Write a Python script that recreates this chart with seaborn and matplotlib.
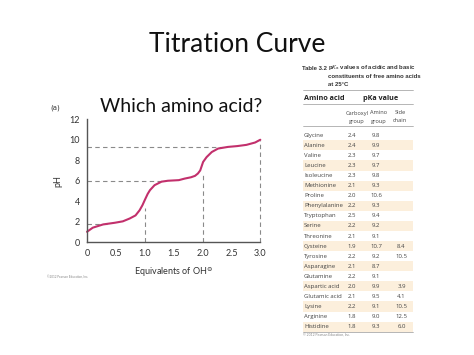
import matplotlib
matplotlib.use("Agg")
import matplotlib.pyplot as plt
import seaborn as sns
import pandas as pd

# ---- data ----
equivalents = [0, 0.1, 0.28, 0.48, 0.62, 0.74, 0.84, 0.91, 0.96, 1.0, 1.05, 1.09,
               1.17, 1.29, 1.40, 1.59, 1.69, 1.80, 1.87, 1.92, 1.96, 2.01, 2.07,
               2.16, 2.27, 2.44, 2.6, 2.76, 2.91, 3.0]
ph_values = [1.0, 1.4, 1.72, 1.88, 2.02, 2.3, 2.6, 3.1, 3.6, 4.1, 4.7, 5.07,
             5.56, 5.9, 5.99, 6.05, 6.2, 6.33, 6.47, 6.7, 7.0, 7.83, 8.3,
             8.8, 9.14, 9.3, 9.38, 9.5, 9.73, 10.0]
pka_levels = [1.8, 6.0, 9.3]
pka_reach = [0.35, 1.35, 2.35]
eq_points = [1.0, 2.0, 3.0]
eq_reach = [3.3, 6.8, 10.0]
x_ticks = [0, 0.5, 1.0, 1.5, 2.0, 2.5, 3.0]
x_tick_labels = ["0", "0.5", "1.0", "1.5", "2.0", "2.5", "3.0"]
y_ticks = [0, 2, 4, 6, 8, 10, 12]

amino_acids = ["Glycine", "Alanine", "Valine", "Leucine", "Isoleucine", "Methionine",
               "Proline", "Phenylalanine", "Tryptophan", "Serine", "Threonine",
               "Cysteine", "Tyrosine", "Asparagine", "Glutamine", "Aspartic acid",
               "Glutamic acid", "Lysine", "Arginine", "Histidine"]
carboxyl = ["2.4", "2.4", "2.3", "2.3", "2.3", "2.1", "2.0", "2.2", "2.5", "2.2",
            "2.1", "1.9", "2.2", "2.1", "2.2", "2.0", "2.1", "2.2", "1.8", "1.8"]
amino = ["9.8", "9.9", "9.7", "9.7", "9.8", "9.3", "10.6", "9.3", "9.4", "9.2",
         "9.1", "10.7", "9.2", "8.7", "9.1", "9.9", "9.5", "9.1", "9.0", "9.3"]
side_chain = ["", "", "", "", "", "", "", "", "", "", "", "8.4", "10.5", "", "",
              "3.9", "4.1", "10.5", "12.5", "6.0"]

df = pd.DataFrame({"eq": equivalents, "pH": ph_values})

sns.set_style("white")
plt.rcParams["font.family"] = ["Lato", "DejaVu Sans"]

fig = plt.figure(figsize=(4.74, 3.55), dpi=100)
fig.patch.set_facecolor("white")

# ---- chart ----
W, H = 474, 355
ax = fig.add_axes([87 / W, 1 - 242 / H, (260.3 - 87) / W, (242 - 119.3) / H])
axis_col = "#555555"
dash_col = "#8a8a8a"
for lvl, reach in zip(pka_levels, pka_reach):
    ax.plot([0, reach], [lvl, lvl], ls=(0, (4, 3)), color=dash_col, lw=0.8, clip_on=False)
for xv, reach in zip(eq_points, eq_reach):
    ax.plot([xv, xv], [0, reach], ls=(0, (4, 3)), color=dash_col, lw=0.8, clip_on=False)
sns.lineplot(data=df, x="eq", y="pH", ax=ax, color="#c2306c", lw=1.5, sort=False)
for l in ax.lines:
    l.set_clip_on(False)
    l.set_solid_joinstyle("round")
ax.set_xlim(0, 3.0)
ax.set_ylim(0, 12)
ax.set_xticks(x_ticks)
ax.set_xticklabels(x_tick_labels)
ax.set_yticks(y_ticks)
sns.despine(ax=ax)
for s in ["left", "bottom"]:
    ax.spines[s].set_color(axis_col)
    ax.spines[s].set_linewidth(1.0)
ax.tick_params(axis="both", direction="out", length=3, width=0.9, color=axis_col,
               labelsize=6.5, labelcolor="#333333", pad=2)
ax.set_xlabel(r"Equivalents of OH$^{\ominus}$", fontsize=6.5, color="#333333", labelpad=5)
ax.set_ylabel("pH", fontsize=6.5, color="#333333", labelpad=5)

# ---- slide text ----
fig.text(0.5, 1 - 45 / H, "Titration Curve", ha="center", va="center",
         fontsize=19, color="#111111")
fig.text(100 / W, 1 - 106 / H, "Which amino acid?", ha="left", va="center",
         fontsize=14, color="#111111")
fig.text(50 / W, 1 - 108 / H, "(a)", ha="left", va="center", fontsize=5,
         color="#333333", family=["DejaVu Sans"])
fig.text(47 / W, 1 - 277 / H, "©2012 Pearson Education, Inc.", ha="left", va="center",
         fontsize=2.2, color="#888888")

# ---- table (pixel-coordinate overlay) ----
tb = fig.add_axes([0, 0, 1, 1])
tb.set_xlim(0, W)
tb.set_ylim(H, 0)
tb.axis("off")
tfam = ["Liberation Sans Narrow", "Liberation Sans", "DejaVu Sans"]
tb.text(302, 68, "Table 3.2", fontsize=4.3, fontweight="bold", family=tfam,
        va="center", ha="left", color="#333333")
tb.text(328, 68, r"p$K_\mathrm{a}$ values of acidic and basic", fontsize=4.3,
        fontweight="bold", family=tfam, va="center", ha="left", color="#333333")
tb.text(328, 76, "constituents of free amino acids", fontsize=4.3, fontweight="bold",
        family=tfam, va="center", ha="left", color="#333333")
tb.text(328, 84, "at 25°C", fontsize=4.3, fontweight="bold", family=tfam,
        va="center", ha="left", color="#333333")
rule_col = "#999999"
for yy in [90, 104, 126]:
    tb.plot([303, 413], [yy, yy], color=rule_col, lw=0.5)
tb.text(304, 98, "Amino acid", fontsize=5.2, fontweight="bold", va="center", ha="left",
        color="#222222", family=["Open Sans", "DejaVu Sans"])
tb.text(363, 98, "pKa value", fontsize=5.2, fontweight="bold", va="center", ha="left",
        color="#222222", family=["Open Sans", "DejaVu Sans"])
hdr = [("Carboxyl", "group", 357), ("Amino", "group", 378.5), ("Side", "chain", 400)]
for a, b, xx in hdr:
    tb.text(xx, 113, a, fontsize=4.1, ha="center", va="center", color="#444444",
            family=["Open Sans", "DejaVu Sans"])
    tb.text(xx, 121, b, fontsize=4.1, ha="center", va="center", color="#444444",
            family=["Open Sans", "DejaVu Sans"])
y0, pitch = 135.3, 10.07
for i, (nm, c, a, s) in enumerate(zip(amino_acids, carboxyl, amino, side_chain)):
    yy = y0 + i * pitch
    if i % 2 == 1:
        tb.fill_between([303, 413], yy - pitch / 2, yy + pitch / 2, color="#fcefdc", lw=0)
    kw = dict(fontsize=4.3, va="center", color="#444444", family=["Open Sans", "DejaVu Sans"])
    tb.text(304, yy, nm, ha="left", **kw)
    tb.text(352, yy, c, ha="center", **kw)
    tb.text(376, yy, a, ha="center", **kw)
    if s:
        tb.text(401.5, yy, s, ha="center", **kw)
tb.plot([303, 413], [y0 + 19 * pitch + pitch / 2, y0 + 19 * pitch + pitch / 2],
        color=rule_col, lw=0.5)
tb.text(303, 335, "© 2012 Pearson Education, Inc.", fontsize=2.4, color="#888888",
        va="center", ha="left")

fig.savefig("out.png", dpi=100, facecolor="white")
